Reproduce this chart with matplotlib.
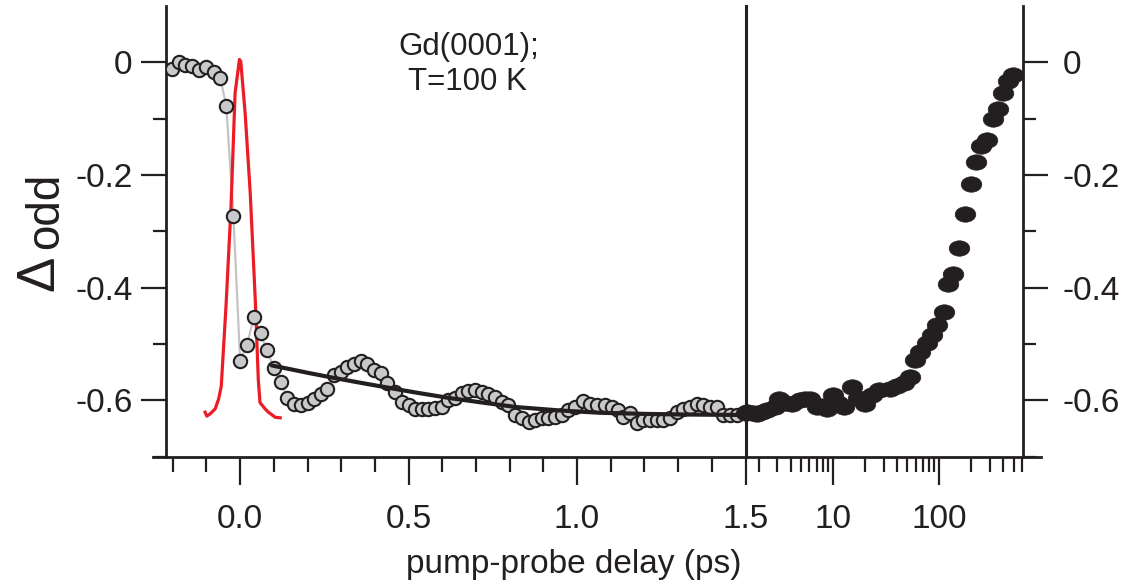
import numpy as np
import matplotlib
matplotlib.use("Agg")
import matplotlib.pyplot as plt
from matplotlib.lines import Line2D
from matplotlib.path import Path
from matplotlib.ticker import FixedLocator, NullFormatter, LogLocator

plt.rcParams['font.family'] = ['Liberation Sans', 'DejaVu Sans']
plt.rcParams['axes.unicode_minus'] = False

INK = '#231f20'

# --- data ---
# short delays, linear axis (ps)
gray_x = [-0.201, -0.180, -0.163, -0.142, -0.122, -0.101, -0.079, -0.059, -0.041, -0.020,
          0.000, 0.020, 0.041, 0.061, 0.079, 0.101, 0.121, 0.140, 0.160, 0.180,
          0.200, 0.220, 0.240, 0.259, 0.279, 0.299, 0.318, 0.338, 0.358, 0.378,
          0.398, 0.418, 0.437, 0.460, 0.480, 0.500, 0.519, 0.539, 0.559, 0.579,
          0.599, 0.618, 0.638, 0.658, 0.677, 0.697, 0.717, 0.737, 0.757, 0.776,
          0.796, 0.816, 0.836, 0.856, 0.875, 0.895, 0.915, 0.935, 0.955, 0.974,
          0.994, 1.019, 1.039, 1.058, 1.083, 1.103, 1.123, 1.137, 1.157, 1.177,
          1.197, 1.217, 1.236, 1.256, 1.276, 1.296, 1.315, 1.335, 1.355, 1.375,
          1.395, 1.415, 1.434, 1.454, 1.474]
gray_y = [-0.012, 0.000, -0.004, -0.007, -0.014, -0.008, -0.017, -0.027, -0.078, -0.272,
          -0.530, -0.502, -0.452, -0.481, -0.511, -0.543, -0.567, -0.595, -0.607, -0.609,
          -0.605, -0.597, -0.589, -0.579, -0.555, -0.550, -0.541, -0.535, -0.530, -0.535,
          -0.547, -0.552, -0.570, -0.585, -0.603, -0.609, -0.615, -0.615, -0.615, -0.614,
          -0.611, -0.600, -0.595, -0.587, -0.584, -0.582, -0.585, -0.588, -0.594, -0.603,
          -0.609, -0.626, -0.632, -0.638, -0.635, -0.632, -0.632, -0.630, -0.626, -0.618,
          -0.612, -0.601, -0.607, -0.609, -0.609, -0.612, -0.618, -0.630, -0.623, -0.641,
          -0.635, -0.635, -0.634, -0.635, -0.632, -0.620, -0.615, -0.612, -0.606, -0.609,
          -0.612, -0.612, -0.626, -0.626, -0.626]

# fit curve (black line)
fit_x = [0.094, 0.20, 0.277, 0.35, 0.425, 0.52, 0.623, 0.72, 0.821, 0.95, 1.068, 1.2, 1.3, 1.5]
fit_y = [-0.538, -0.551, -0.560, -0.568, -0.576, -0.586, -0.596, -0.604, -0.612, -0.618,
         -0.622, -0.624, -0.625, -0.626]

# cross-correlation (red)
xc_x = [-0.104, -0.099, -0.089, -0.074, -0.064, -0.056, -0.042, -0.027, -0.015, -0.002,
        0.002, 0.015, 0.030, 0.045, 0.054, 0.059, 0.074, 0.084, 0.104, 0.119]
xc_y = [-0.621, -0.628, -0.624, -0.615, -0.598, -0.575, -0.434, -0.256, -0.055, 0.005,
        0.001, -0.091, -0.232, -0.422, -0.564, -0.604, -0.615, -0.621, -0.630, -0.631]

# long delays, log axis (ps)
long_x = [1.52, 1.56, 1.75, 1.93, 2.15, 2.40, 2.87, 3.08, 3.6, 4.12, 4.93, 5.5, 6.12, 7.08,
          7.8, 8.79, 10.1, 11.2, 12.6, 15.1, 17.0, 20.1, 23.5, 26.9, 34.6, 40.0, 46.2, 53.3,
          59.4, 66.2, 76.5, 85.3, 95.0, 109.7, 122, 136, 155, 175, 198, 222, 246, 284,
          319, 360, 402, 448, 499]
long_y = [-0.622, -0.621, -0.622, -0.624, -0.620, -0.618, -0.612, -0.597, -0.604, -0.606,
          -0.600, -0.598, -0.597, -0.612, -0.610, -0.615, -0.591, -0.605, -0.612, -0.576,
          -0.595, -0.606, -0.590, -0.582, -0.579, -0.575, -0.570, -0.558, -0.529, -0.514,
          -0.499, -0.484, -0.467, -0.443, -0.393, -0.375, -0.329, -0.269, -0.216, -0.177,
          -0.149, -0.138, -0.100, -0.082, -0.055, -0.034, -0.023]

y_major = [0, -0.2, -0.4, -0.6]
y_minor = [-0.1, -0.3, -0.5, -0.7]

W, H = 1133, 588


def fx(px):
    return px / W


def fy(py):
    return 1 - py / H


fig = plt.figure(figsize=(W / 100, H / 100), dpi=100)

x0, x15, x_end = 166, 745.5, 1022.7
y_top, y_bot = 5.96, 456.7
ax1 = fig.add_axes([fx(x0), fy(y_bot), (x15 - x0) / W, (y_bot - y_top) / H])
ax2 = fig.add_axes([fx(x15), fy(y_bot), (x_end - x15) / W, (y_bot - y_top) / H])

for ax in (ax1, ax2):
    ax.set_ylim(-0.7, 0.1)
    ax.patch.set_alpha(0)
    for s in ax.spines.values():
        s.set_linewidth(2.0)
        s.set_color(INK)
    ax.spines['top'].set_visible(False)
    ax.spines['bottom'].set_visible(False)
    ax.tick_params(which='both', direction='out', width=1.6, color=INK,
                   labelsize=24, labelcolor=INK)
    ax.tick_params(axis='x', which='major', length=20, pad=14)
    ax.tick_params(axis='x', which='minor', length=10.5)
    ax.tick_params(axis='y', which='major', length=18)
    ax.tick_params(axis='y', which='minor', length=9.4)
    ax.yaxis.set_major_locator(FixedLocator(y_major))
    ax.yaxis.set_minor_locator(FixedLocator(y_minor))
    ax.set_yticklabels(['0', '-0.2', '-0.4', '-0.6'])

# left panel (linear)
ax1.set_xlim(-0.22, 1.5)
ax1.spines['right'].set_linewidth(2.2)
ax1.xaxis.set_major_locator(FixedLocator([0, 0.5, 1.0, 1.5]))
ax1.xaxis.set_minor_locator(FixedLocator([-0.2, -0.1, 0.1, 0.2, 0.3, 0.4, 0.6, 0.7, 0.8, 0.9,
                                          1.1, 1.2, 1.3, 1.4]))
ax1.set_xticklabels(['0.0', '0.5', '1.0', '1.5'])
ax1.tick_params(axis='y', which='both', left=True, right=False, pad=6)

ax1.plot(gray_x, gray_y, color='#c4c4c4', lw=1.6, zorder=2)
ax1.plot(xc_x, xc_y, color='#ed1c24', lw=2.3, zorder=3)
ax1.plot(gray_x, gray_y, ls='none', marker='o', ms=9.6, mfc='#c8c9ca', mec=INK, mew=1.5,
         zorder=4)
ax1.plot(fit_x, fit_y, color=INK, lw=3.0, zorder=5, solid_capstyle='round')

# right panel (log)
ax2.set_xscale('log')
ax2.set_xlim(1.5, 610)
ax2.spines['left'].set_visible(False)
ax2.xaxis.set_major_locator(FixedLocator([10, 100]))
ax2.xaxis.set_minor_locator(LogLocator(base=10, subs=np.arange(2, 10), numticks=20))
ax2.xaxis.set_minor_formatter(NullFormatter())
ax2.set_xticklabels(['10', '100'])
ax2.yaxis.tick_right()
ax2.tick_params(axis='y', which='both', left=False, right=True, pad=11)

ell = Path.unit_circle()
ell = Path(ell.vertices * np.array([1.0, 0.75]), ell.codes)
ax2.plot(long_x, long_y, ls='none', marker=ell, ms=14.8, mfc=INK, mec=INK, mew=0.5,
         zorder=4, clip_on=False)

# common bottom axis line
fig.add_artist(Line2D([fx(153), fx(1041)], [fy(y_bot), fy(y_bot)], color=INK, lw=2.0,
                      transform=fig.transFigure))

# labels
fig.text(fx(574), fy(573), 'pump-probe delay (ps)', ha='center', va='baseline',
         size=24, color=INK)
fig.text(fx(469), fy(55), 'Gd(0001);', ha='center', va='baseline', size=22.5, color=INK)
fig.text(fx(467), fy(90), 'T=100 K', ha='center', va='baseline', size=22.5, color=INK)
fig.text(fx(53), fy(291), '\u0394', rotation=90, rotation_mode='anchor',
         ha='left', va='baseline', size=38, color=INK)
fig.text(fx(58), fy(249), 'odd', rotation=90, rotation_mode='anchor',
         ha='left', va='baseline', size=33, color=INK)

fig.savefig('out.png', dpi=100)
